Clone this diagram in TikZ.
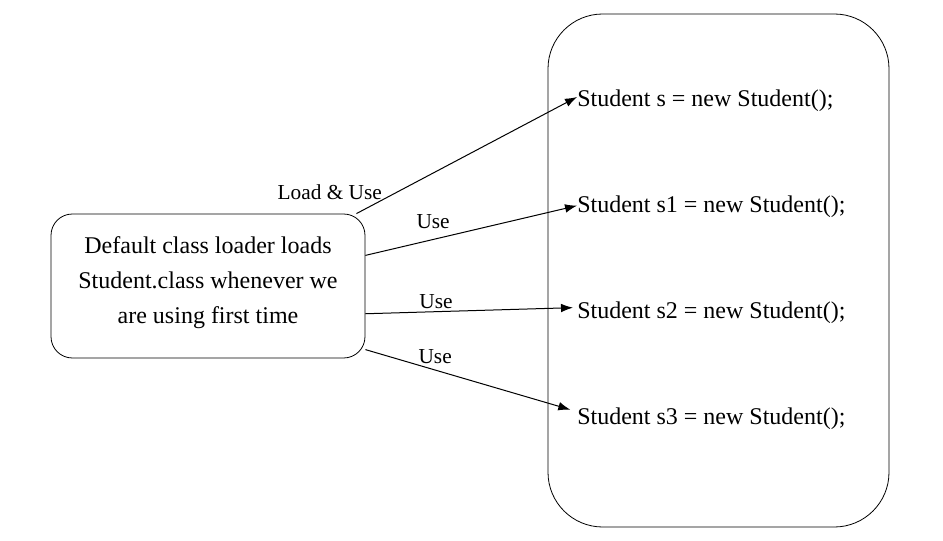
\documentclass[tikz,border=0pt]{standalone}
\usepackage{fontspec}
\setmainfont{Liberation Serif}
\usetikzlibrary{positioning,arrows.meta}
\tikzset{
  stmt/.style={anchor=west, inner sep=0pt, font=\fontsize{18}{21}\selectfont},
  lbl/.style={inner sep=1pt, font=\fontsize{16}{18}\selectfont},
  loader/.style={draw, line width=0.6pt, rounded corners=16pt, minimum width=235.5pt, minimum height=108pt},
  block/.style={draw, line width=0.6pt, rounded corners=41pt, minimum width=255.75pt, minimum height=384.75pt},
  use/.style={-{Latex[length=9pt,width=6.5pt]}, line width=0.75pt}
}
\begin{document}
\begin{tikzpicture}[x=0.75pt,y=-0.75pt]
  \useasboundingbox (0,0) rectangle (943,541);

  \node[block] (blk) at (718.5,270.5) {};
  \node[loader] (ldr) at (208,286) {};
  \node[align=center, font=\fontsize{18}{26}\selectfont] (ldrtxt) at (208,282.5)
    {Default class loader loads\\Student.class whenever we\\are using first time};

  \node[stmt] (s0) at (577,101) {Student s = new Student();};
  \node[stmt] (s1) at (577,207) {Student s1 = new Student();};
  \node[stmt] (s2) at (577,313) {Student s2 = new Student();};
  \node[stmt] (s3) at (577,419) {Student s3 = new Student();};

  \draw[use] (ldr.26) -- ([yshift=3pt]s0.west)
    node[lbl, pos=0, above=9pt, xshift=-20pt] {Load \& Use};
  \draw[use] (ldr.11) -- ([yshift=1pt]s1.west)
    node[lbl, pos=.32, above=7pt] {Use};
  \draw[use] (ldr.-10) -- ([shift={(-3pt,4pt)}]s2.west)
    node[lbl, pos=.34, above=1pt] {Use};
  \draw[use] (ldr.-22) -- ([shift={(-5pt,7pt)}]s3.west)
    node[lbl, pos=.36, above=4pt, xshift=-3pt] {Use};
\end{tikzpicture}
\end{document}
